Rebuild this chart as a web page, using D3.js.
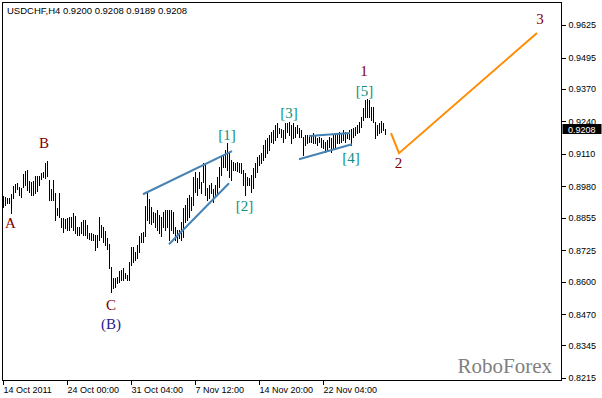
<!DOCTYPE html>
<html>
<head>
<meta charset="utf-8">
<script src="https://cdn.jsdelivr.net/npm/d3@7"></script>
<style>
  body { margin: 0; background: #fff; }
  svg { display: block; }
</style>
</head>
<body>
<div class="chart"></div>
<script>
// USDCHF H4 bars (high / low per bar)
const highs = [
  0.8941,0.8937,0.8933,0.8933,0.8949,0.8981,0.8989,0.8993,0.8977,0.8973,
  0.9029,0.9041,0.9045,0.9001,0.8997,0.9001,0.9021,0.9021,0.9021,0.9033,
  0.9037,0.9073,0.9081,0.9005,0.8969,0.9005,0.8953,0.8893,0.8953,0.8853,
  0.8853,0.8849,0.8853,0.8857,0.8857,0.8873,0.8861,0.8817,0.8817,0.8837,
  0.8845,0.8845,0.8825,0.8793,0.8793,0.8789,0.8785,0.8785,0.8857,0.8825,
  0.8817,0.8801,0.8773,0.8749,0.8657,0.8613,0.8613,0.8617,0.8641,0.8645,
  0.8653,0.8633,0.8625,0.8677,0.8737,0.8737,0.8717,0.8745,0.8781,0.8793,
  0.8797,0.8901,0.8953,0.8929,0.8897,0.8877,0.8873,0.8885,0.8865,0.8857,
  0.8877,0.8885,0.8885,0.8885,0.8885,0.8877,0.8817,0.8805,0.8805,0.8837,
  0.8893,0.8905,0.8933,0.8945,0.8937,0.9017,0.9037,0.9013,0.9037,0.8997,
  0.9073,0.9065,0.8973,0.8985,0.8993,0.8969,0.8985,0.9017,0.9057,0.9097,
  0.9105,0.9125,0.9153,0.9117,0.9085,0.9077,0.9073,0.9077,0.9073,0.9073,
  0.9045,0.9033,0.9017,0.9013,0.9025,0.9053,0.9073,0.9097,0.9105,0.9113,
  0.9145,0.9165,0.9173,0.9185,0.9197,0.9205,0.9225,0.9233,0.9213,0.9209,
  0.9205,0.9233,0.9233,0.9237,0.9225,0.9233,0.9217,0.9225,0.9213,0.9205,
  0.9177,0.9185,0.9185,0.9177,0.9185,0.9193,0.9185,0.9173,0.9177,0.9173,
  0.9165,0.9157,0.9165,0.9177,0.9173,0.9185,0.9193,0.9193,0.9197,0.9193,
  0.9205,0.9197,0.9193,0.9205,0.9209,0.9213,0.9217,0.9225,0.9237,0.9257,
  0.9293,0.9325,0.9329,0.9325,0.9297,0.9297,0.9237,0.9225,0.9233,0.9241,
  0.9233,0.9208
];
const lows = [
  0.8897,0.8905,0.8913,0.8913,0.8873,0.8933,0.8957,0.8969,0.8945,0.8937,
  0.8977,0.8985,0.8965,0.8957,0.8945,0.8945,0.8953,0.8961,0.8985,0.9009,
  0.9017,0.9013,0.9021,0.8925,0.8925,0.8925,0.8845,0.8865,0.8857,0.8817,
  0.8797,0.8813,0.8805,0.8805,0.8817,0.8805,0.8793,0.8785,0.8785,0.8793,
  0.8785,0.8785,0.8773,0.8769,0.8765,0.8765,0.8725,0.8737,0.8765,0.8777,
  0.8757,0.8745,0.8729,0.8653,0.8557,0.8573,0.8577,0.8593,0.8597,0.8605,
  0.8605,0.8613,0.8605,0.8605,0.8665,0.8677,0.8685,0.8693,0.8717,0.8757,
  0.8757,0.8781,0.8845,0.8833,0.8829,0.8837,0.8817,0.8805,0.8793,0.8781,
  0.8817,0.8805,0.8817,0.8765,0.8805,0.8793,0.8765,0.8757,0.8773,0.8765,
  0.8777,0.8837,0.8845,0.8857,0.8885,0.8905,0.8957,0.8945,0.8973,0.8953,
  0.8997,0.8945,0.8925,0.8933,0.8953,0.8917,0.8937,0.8953,0.8977,0.9025,
  0.9057,0.9057,0.9045,0.9017,0.9005,0.9045,0.9045,0.9041,0.9037,0.9033,
  0.8985,0.8945,0.8985,0.8985,0.8957,0.8973,0.9017,0.9037,0.9065,0.9073,
  0.9085,0.9097,0.9113,0.9125,0.9157,0.9153,0.9165,0.9177,0.9193,0.9177,
  0.9157,0.9173,0.9197,0.9185,0.9153,0.9173,0.9177,0.9193,0.9177,0.9177,
  0.9105,0.9145,0.9153,0.9157,0.9157,0.9153,0.9153,0.9145,0.9157,0.9137,
  0.9133,0.9117,0.9125,0.9137,0.9117,0.9133,0.9137,0.9153,0.9153,0.9157,
  0.9165,0.9157,0.9173,0.9169,0.9145,0.9177,0.9185,0.9193,0.9197,0.9217,
  0.9245,0.9257,0.9257,0.9257,0.9245,0.9237,0.9173,0.9185,0.9193,0.9197,
  0.9205,0.9189
];

const priceTicks = [0.9625,0.9495,0.9370,0.9240,0.9110,0.8980,0.8855,0.8725,0.8600,0.8470,0.8345,0.8215];
const timeTickBars = [0, 32, 64, 96, 128, 160];
const timeTickLabels = ["14 Oct 2011","24 Oct 00:00","31 Oct 04:00","7 Nov 12:00","14 Nov 20:00","22 Nov 04:00"];

const lastPrice = 0.9208;
const header = "USDCHF,H4  0.9200 0.9208 0.9189 0.9208";

// trend lines drawn on the chart: [bar, price] pairs
const trendLines = [
  [[70, 0.8949], [114.5, 0.9121]],
  [[83, 0.8749], [113, 0.8993]],
  [[153, 0.9182], [173.5, 0.9194]],
  [[148, 0.9089], [174.5, 0.9149]]
];
// forecast path
const forecast = [[194, 0.9193], [198, 0.9113], [267, 0.9593]];

// wave labels: text, bar, price (baseline), kind
const waveLabels = [
  ["A", 3.75, 0.8813, "wave"],
  ["B", 20.5, 0.9133, "wave"],
  ["C", 54, 0.8485, "wave"],
  ["(B)", 54, 0.8409, "major"],
  ["[1]", 112, 0.9165, "minor"],
  ["[2]", 120.75, 0.8881, "minor"],
  ["[3]", 143, 0.9253, "minor"],
  ["[4]", 174, 0.9073, "minor"],
  ["[5]", 180.75, 0.9341, "minor"],
  ["1", 180.5, 0.9421, "wave"],
  ["2", 197.75, 0.9053, "wave"],
  ["3", 268.5, 0.9629, "wave"]
];

const width = 602, height = 398;
const frameLeft = 2.5, frameTop = 2.5, frameRight = 561.5, frameBottom = 380.5;

const svg = d3.select('.chart')
  .append('svg')
  .attr('width', width)
  .attr('height', height);

const x = d3.scaleLinear().domain([0, highs.length - 1]).range([3, 3 + 2 * (highs.length - 1)]);
const y = d3.scaleLinear().domain([0.8215, 0.9625]).range([378, 25]);

// frame
svg.append('rect')
  .attr('x', frameLeft).attr('y', frameTop)
  .attr('width', frameRight - frameLeft).attr('height', frameBottom - frameTop)
  .attr('fill', 'none').attr('stroke', '#000').attr('stroke-width', 1)
  .attr('shape-rendering', 'crispEdges');

// header text
svg.append('text')
  .attr('x', 7).attr('y', 14)
  .attr('font-family', 'Liberation Sans, Arial, sans-serif')
  .attr('font-size', '9.5px')
  .attr('fill', '#000')
  .text(header);

// watermark
svg.append('text')
  .attr('x', 552).attr('y', 373)
  .attr('text-anchor', 'end')
  .attr('font-family', 'Liberation Serif, Times New Roman, serif')
  .attr('font-size', '21px')
  .attr('fill', '#808080')
  .text('RoboForex');

// price axis
const yAxis = svg.append('g')
  .attr('transform', 'translate(' + frameRight + ',0)')
  .call(d3.axisRight(y).tickValues(priceTicks).tickSize(4).tickPadding(3)
    .tickFormat(d3.format('.4f')));
yAxis.select('.domain').remove();
yAxis.selectAll('line').attr('stroke', '#000').attr('shape-rendering', 'crispEdges');
yAxis.selectAll('text')
  .attr('font-family', 'Liberation Sans, Arial, sans-serif')
  .attr('font-size', '9px')
  .attr('fill', '#000');

// time axis
const xAxis = svg.append('g')
  .attr('transform', 'translate(0,' + frameBottom + ')')
  .call(d3.axisBottom(x).tickValues(timeTickBars).tickSize(4).tickPadding(2)
    .tickFormat((d, i) => timeTickLabels[i]));
xAxis.select('.domain').remove();
xAxis.selectAll('line').attr('stroke', '#000').attr('shape-rendering', 'crispEdges');
xAxis.selectAll('text')
  .attr('text-anchor', 'start')
  .attr('font-family', 'Liberation Sans, Arial, sans-serif')
  .attr('font-size', '9px')
  .attr('fill', '#000');

// bars
svg.append('g')
  .selectAll('line')
  .data(highs)
  .enter()
  .append('line')
    .attr('x1', (d, i) => Math.round(x(i)) + 0.5)
    .attr('x2', (d, i) => Math.round(x(i)) + 0.5)
    .attr('y1', d => Math.round(y(d)))
    .attr('y2', (d, i) => Math.round(y(lows[i])) + 1)
    .attr('stroke', '#000')
    .attr('stroke-width', 1)
    .attr('shape-rendering', 'crispEdges');

// trend lines
const line = d3.line().x(d => x(d[0])).y(d => y(d[1]));
svg.append('g')
  .selectAll('path')
  .data(trendLines)
  .enter()
  .append('path')
    .attr('d', line)
    .attr('fill', 'none')
    .attr('stroke', '#4682b4')
    .attr('stroke-width', 2);

svg.append('path')
  .datum(forecast)
  .attr('d', line)
  .attr('fill', 'none')
  .attr('stroke', '#ff8c00')
  .attr('stroke-width', 2);

// wave labels
const labelColor = { wave: '#800000', major: '#1c1c8c', minor: '#10907a' };
svg.append('g')
  .selectAll('text')
  .data(waveLabels)
  .enter()
  .append('text')
    .attr('x', d => x(d[1]))
    .attr('y', d => y(d[2]))
    .attr('text-anchor', 'middle')
    .attr('font-family', 'Liberation Serif, Times New Roman, serif')
    .attr('font-size', '15px')
    .attr('fill', d => labelColor[d[3]])
    .text(d => d[0]);

// last price marker
const py = Math.round(y(lastPrice));
svg.append('rect')
  .attr('x', frameRight + 1).attr('y', py - 5)
  .attr('width', 39).attr('height', 10)
  .attr('fill', '#000');
svg.append('text')
  .attr('x', 568).attr('y', py + 3.5)
  .attr('font-family', 'Liberation Sans, Arial, sans-serif')
  .attr('font-size', '9px')
  .attr('fill', '#fff')
  .text(d3.format('.4f')(lastPrice));
</script>
</body>
</html>
